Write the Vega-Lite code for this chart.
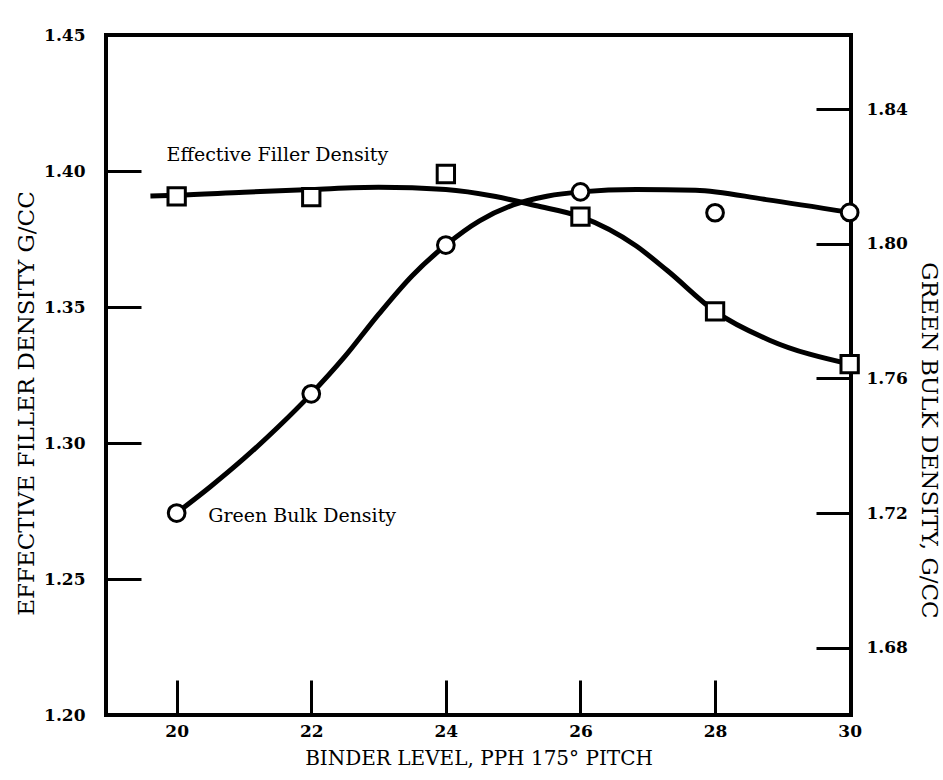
{
  "$schema": "https://vega.github.io/schema/vega-lite/v6.json",
  "width": 745,
  "height": 680,
  "autosize": {"type": "none"},
  "padding": {"left": 106, "top": 35, "right": 92, "bottom": 65},
  "background": "white",
  "config": {
    "view": {"stroke": "black", "strokeWidth": 4},
    "axis": {
      "domain": false,
      "grid": false,
      "tickColor": "black",
      "tickWidth": 3,
      "tickSize": 35,
      "offset": -35,
      "labelFont": "DejaVu Serif",
      "labelFontSize": 17,
      "labelFontWeight": "bold",
      "labelColor": "black",
      "titleFont": "DejaVu Serif",
      "titleFontWeight": "normal",
      "titleColor": "black"
    }
  },
  "datasets": {
    "fillerPts": [
      {"binder": 20, "density": 1.3907},
      {"binder": 22, "density": 1.3904},
      {"binder": 24, "density": 1.3989},
      {"binder": 26, "density": 1.3832},
      {"binder": 28, "density": 1.3484},
      {"binder": 30, "density": 1.3290}
    ],
    "fillerCurve": [
      {"binder": 19.61, "density": 1.3908},
      {"binder": 20, "density": 1.3911},
      {"binder": 21, "density": 1.3922},
      {"binder": 22, "density": 1.3932},
      {"binder": 23, "density": 1.3940},
      {"binder": 24, "density": 1.3932},
      {"binder": 24.74, "density": 1.3906},
      {"binder": 25.33, "density": 1.3873},
      {"binder": 26, "density": 1.3832},
      {"binder": 26.83, "density": 1.3724},
      {"binder": 27.29, "density": 1.3634},
      {"binder": 28, "density": 1.3484},
      {"binder": 28.81, "density": 1.3378},
      {"binder": 30, "density": 1.3290}
    ],
    "bulkPts": [
      {"binder": 20, "density": 1.7200},
      {"binder": 22, "density": 1.7554},
      {"binder": 24, "density": 1.7996},
      {"binder": 26, "density": 1.8154},
      {"binder": 28, "density": 1.8092},
      {"binder": 30, "density": 1.8093}
    ],
    "bulkCurve": [
      {"binder": 20, "density": 1.7200},
      {"binder": 20.5, "density": 1.7278},
      {"binder": 21, "density": 1.7362},
      {"binder": 21.5, "density": 1.7454},
      {"binder": 22, "density": 1.7554},
      {"binder": 22.5, "density": 1.7665},
      {"binder": 23, "density": 1.7790},
      {"binder": 23.5, "density": 1.7905},
      {"binder": 24, "density": 1.7996},
      {"binder": 24.5, "density": 1.8068},
      {"binder": 25, "density": 1.8115},
      {"binder": 25.5, "density": 1.8141},
      {"binder": 26, "density": 1.8154},
      {"binder": 26.83, "density": 1.8161},
      {"binder": 27.71, "density": 1.8159},
      {"binder": 28.76, "density": 1.8131},
      {"binder": 30, "density": 1.8093}
    ],
    "one": [{}]
  },
  "layer": [
    {
      "layer": [
        {
          "data": {"name": "fillerCurve"},
          "mark": {"type": "line", "interpolate": "monotone", "color": "black", "strokeWidth": 5},
          "encoding": {
            "x": {
              "field": "binder", "type": "quantitative",
              "scale": {"domain": [18.95, 30.02], "nice": false, "zero": false},
              "axis": {
                "values": [20, 22, 24, 26, 28, 30],
                "format": "d",
                "labelPadding": 8,
                "title": "BINDER LEVEL, PPH 175° PITCH",
                "titleFontSize": 20,
                "titlePadding": 9
              }
            },
            "y": {
              "field": "density", "type": "quantitative",
              "scale": {"domain": [1.20, 1.45], "nice": false, "zero": false},
              "axis": {
                "orient": "left",
                "values": [1.20, 1.25, 1.30, 1.35, 1.40, 1.45],
                "format": ".2f",
                "labelPadding": 21,
                "title": "EFFECTIVE FILLER DENSITY  G/CC",
                "titleFontSize": 23,
                "titlePadding": 5,
                "titleY": 368
              }
            }
          }
        },
        {
          "data": {"name": "fillerPts"},
          "mark": {"type": "point", "shape": "square", "filled": true, "fill": "white", "stroke": "black", "strokeWidth": 3, "size": 300, "opacity": 1},
          "encoding": {
            "x": {"field": "binder", "type": "quantitative"},
            "y": {"field": "density", "type": "quantitative"}
          }
        },
        {
          "data": {"name": "one"},
          "mark": {"type": "text", "text": "Effective Filler Density", "align": "left", "baseline": "middle", "font": "DejaVu Serif", "fontSize": 19, "color": "black"},
          "encoding": {
            "x": {"datum": 19.85, "type": "quantitative"},
            "y": {"datum": 1.406, "type": "quantitative"}
          }
        },
        {
          "data": {"name": "one"},
          "mark": {"type": "text", "text": "Green Bulk Density", "align": "left", "baseline": "middle", "font": "DejaVu Serif", "fontSize": 19, "color": "black"},
          "encoding": {
            "x": {"datum": 20.47, "type": "quantitative"},
            "y": {"datum": 1.273, "type": "quantitative"}
          }
        }
      ]
    },
    {
      "layer": [
        {
          "data": {"name": "bulkCurve"},
          "mark": {"type": "line", "interpolate": "monotone", "color": "black", "strokeWidth": 5},
          "encoding": {
            "x": {"field": "binder", "type": "quantitative"},
            "y": {
              "field": "density", "type": "quantitative",
              "scale": {"domain": [1.66, 1.862], "nice": false, "zero": false},
              "axis": {
                "orient": "right",
                "values": [1.68, 1.72, 1.76, 1.80, 1.84],
                "format": ".2f",
                "labelPadding": 15,
                "title": "GREEN BULK DENSITY, G/CC",
                "titleFontSize": 23,
                "titlePadding": 9,
                "titleY": 405
              }
            }
          }
        },
        {
          "data": {"name": "bulkPts"},
          "mark": {"type": "point", "shape": "circle", "filled": true, "fill": "white", "stroke": "black", "strokeWidth": 3, "size": 280, "opacity": 1},
          "encoding": {
            "x": {"field": "binder", "type": "quantitative"},
            "y": {"field": "density", "type": "quantitative"}
          }
        }
      ]
    }
  ],
  "resolve": {"scale": {"y": "independent"}}
}
